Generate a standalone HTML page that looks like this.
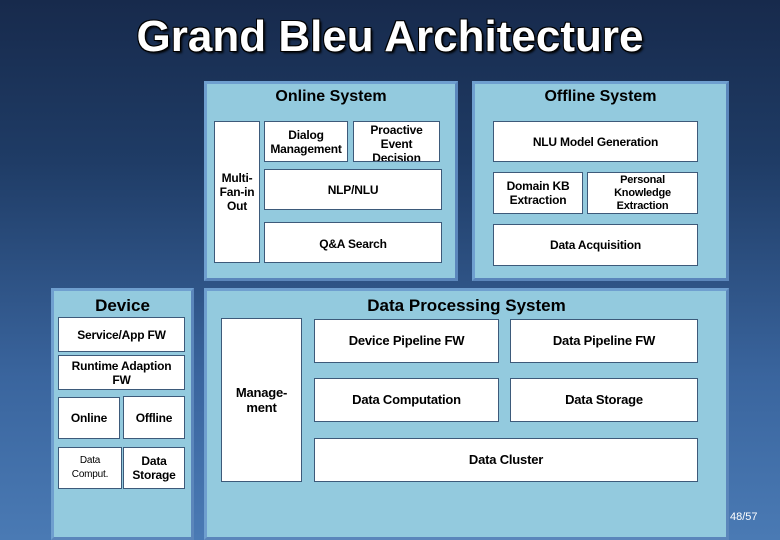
<!DOCTYPE html>
<html><head><style>
body{margin:0;width:780px;height:540px;overflow:hidden;background:linear-gradient(#172a4c 0%,#1f3c66 30%,#3a659e 70%,#4a7ab4 100%);font-family:"Liberation Sans",Arial,sans-serif;position:relative}
.a{position:absolute;box-sizing:border-box}
.p{background:#93cade;border:3px solid #6f9fcf;border-right-color:#5b86bb;border-bottom-color:#5b86bb}
.b{background:#fff;border:1px solid #3d5a7a;display:flex;align-items:center;justify-content:center;text-align:center;font-size:12px;line-height:14px;color:#000;font-weight:bold;letter-spacing:-0.2px}
.t{font-weight:bold;font-size:16px;text-align:center;color:#000}
</style></head><body>
<div class="a" style="left:0;top:12px;width:780px;text-align:center;font-size:44px;font-weight:bold;color:#fff;text-shadow:-1px -1px 0 #000,1px -1px 0 #000,-1px 1px 0 #000,2px 2px 2px #000;letter-spacing:0px">Grand Bleu Architecture</div>

<div class="a p" style="left:204px;top:81px;width:254px;height:200px"></div>
<div class="a t" style="left:204px;top:88px;width:254px">Online System</div>
<div class="a b" style="left:214px;top:121px;width:46px;height:142px">Multi-<br>Fan-in<br>Out</div>
<div class="a b" style="left:264px;top:121px;width:84px;height:41px">Dialog<br>Management</div>
<div class="a b" style="left:353px;top:121px;width:87px;height:41px;overflow:hidden;align-items:flex-start;padding-top:1px">Proactive<br>Event<br>Decision</div>
<div class="a b" style="left:264px;top:169px;width:178px;height:41px">NLP/NLU</div>
<div class="a b" style="left:264px;top:222px;width:178px;height:41px;align-items:flex-start;padding-top:14px">Q&amp;A Search</div>

<div class="a p" style="left:472px;top:81px;width:257px;height:200px"></div>
<div class="a t" style="left:472px;top:88px;width:257px">Offline System</div>
<div class="a b" style="left:493px;top:121px;width:205px;height:41px">NLU Model Generation</div>
<div class="a b" style="left:493px;top:172px;width:90px;height:42px">Domain KB<br>Extraction</div>
<div class="a b" style="left:587px;top:172px;width:111px;height:42px;font-size:11px;line-height:13px">Personal<br>Knowledge<br>Extraction</div>
<div class="a b" style="left:493px;top:224px;width:205px;height:42px">Data Acquisition</div>

<div class="a p" style="left:51px;top:288px;width:143px;height:252px"></div>
<div class="a t" style="left:51px;top:296px;width:143px;font-size:17px">Device</div>
<div class="a b" style="left:58px;top:317px;width:127px;height:35px">Service/App FW</div>
<div class="a b" style="left:58px;top:355px;width:127px;height:35px">Runtime Adaption<br>FW</div>
<div class="a b" style="left:58px;top:397px;width:62px;height:42px">Online</div>
<div class="a b" style="left:123px;top:396px;width:62px;height:43px">Offline</div>
<div class="a b" style="left:58px;top:447px;width:64px;height:42px;font-size:10px;font-weight:normal">Data<br>Comput.</div>
<div class="a b" style="left:123px;top:447px;width:62px;height:42px">Data<br>Storage</div>

<div class="a p" style="left:204px;top:288px;width:525px;height:252px"></div>
<div class="a t" style="left:204px;top:296px;width:525px;font-size:17px">Data Processing System</div>
<div class="a b" style="left:221px;top:318px;width:81px;height:164px;font-size:13px;line-height:15px">Manage-<br>ment</div>
<div class="a b" style="left:314px;top:319px;width:185px;height:44px;font-size:13px">Device Pipeline FW</div>
<div class="a b" style="left:510px;top:319px;width:188px;height:44px;font-size:13px">Data Pipeline FW</div>
<div class="a b" style="left:314px;top:378px;width:185px;height:44px;font-size:13px">Data Computation</div>
<div class="a b" style="left:510px;top:378px;width:188px;height:44px;font-size:13px">Data Storage</div>
<div class="a b" style="left:314px;top:438px;width:384px;height:44px;font-size:13px">Data Cluster</div>

<div class="a" style="left:730px;top:511px;font-size:11px;color:#fff">48/57</div>
</body></html>
